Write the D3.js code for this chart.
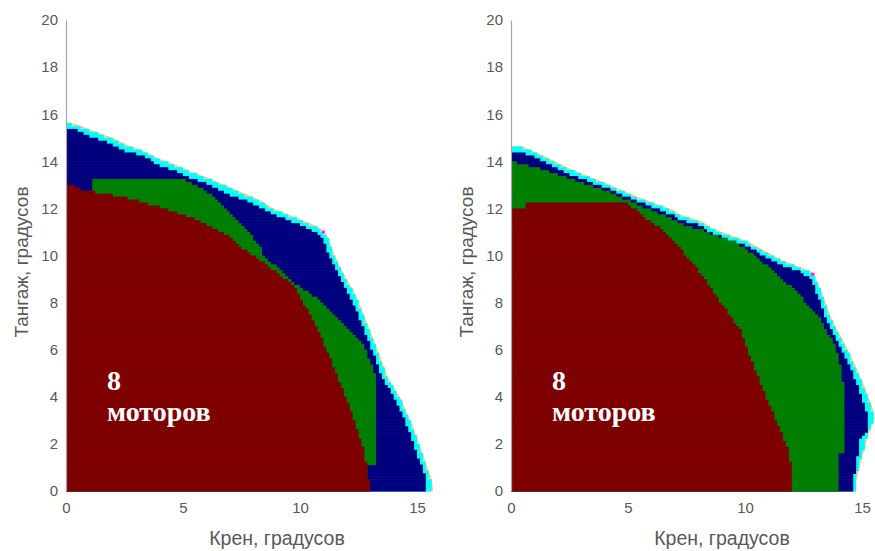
<!DOCTYPE html>
<html>
<head>
<meta charset="utf-8">
<script src="https://cdn.jsdelivr.net/npm/d3@7"></script>
<style>
  body { margin: 0; background: #ffffff; }
  svg { display: block; }
</style>
</head>
<body>
<svg id="chart" width="875" height="551"></svg>
<script>
// Axis ticks
const rollTicks = [0, 5, 10, 15];
const pitchTicks = [0, 2, 4, 6, 8, 10, 12, 14, 16, 18, 20];

// Axis titles and panel caption
const rollTitle = "Крен, градусов";
const pitchTitle = "Тангаж, градусов";
const captionLines = ["8", "моторов"];

// Left panel
const leftEdge = [[0,15.6],[0.4,15.55],[1.15,15.25],[2.0,14.95],[2.6,14.65],[3.3,14.4],[4.0,14.05],[4.7,13.8],[5.4,13.5],[6.2,13.2],[6.9,12.9],[7.6,12.6],[8.3,12.3],[8.85,11.95],[10.0,11.5],[10.7,11.2],[11.0,11.0],[11.2,10.7],[11.4,10.1],[11.8,9.25],[12.3,8.4],[12.56,7.8],[13.0,6.7],[13.35,5.8],[13.7,4.85],[14.3,3.85],[14.8,2.7],[15.25,1.45],[15.6,0.45],[15.65,0]];
const leftNavy = [[0,15.42],[0.5,15.3],[1.15,15.0],[2.0,14.72],[2.6,14.4],[3.3,14.22],[4.0,13.8],[4.7,13.58],[5.4,13.25],[6.2,12.98],[6.9,12.6],[7.6,12.38],[8.3,12.05],[8.85,11.74],[10.0,11.3],[10.7,11.0],[10.92,10.8],[11.2,10.1],[11.6,9.25],[12.1,8.35],[12.4,7.75],[12.8,6.65],[13.15,5.8],[13.5,4.85],[14.1,3.85],[14.6,2.7],[15.05,1.45],[15.42,0.45],[15.42,0]];
const leftGreen = [[1.1,12.7],[1.1,13.25],[4.9,13.25],[5.6,13.0],[6.15,12.6],[6.9,11.9],[7.75,11.05],[8.35,10.35],[8.45,10.0],[9.85,8.75],[10.3,8.45],[10.85,8.1],[11.4,7.5],[12.1,6.9],[12.7,6.3],[13.0,5.5],[13.3,4.75],[13.3,1.1],[12.9,1.1],[12.9,0]];
const leftRed = [[0,13.0],[0.35,13.0],[0.5,12.85],[1.15,12.7],[2.6,12.45],[4.0,12.05],[5.4,11.6],[6.9,10.85],[7.44,10.35],[8.3,9.8],[9.2,9.15],[9.85,8.6],[10.2,7.9],[10.85,6.7],[11.3,5.6],[11.7,4.6],[12.1,3.6],[12.4,2.7],[12.7,1.8],[12.85,1.1],[12.95,0.4],[12.95,0]];
const leftSpots = [[11.0,11.0]];

// Right panel
const rightEdge = [[0,14.6],[0.45,14.6],[1.15,14.3],[2.6,13.6],[4.0,13.05],[5.4,12.45],[6.9,11.9],[7.2,11.7],[8.15,11.4],[8.6,11.1],[10.1,10.55],[11.5,9.8],[12.4,9.45],[12.9,9.25],[13.2,8.55],[13.6,7.45],[13.9,6.85],[14.06,6.55],[14.5,5.7],[15.0,4.6],[15.4,3.55],[15.5,3.1],[15.2,2.3],[14.9,1.2],[14.7,0.35],[14.7,0]];
const rightNavy = [[0,14.4],[0.45,14.4],[1.15,14.1],[2.6,13.4],[4.0,12.9],[5.4,12.3],[6.9,11.72],[7.2,11.55],[8.15,11.25],[8.6,10.95],[10.1,10.38],[11.5,9.62],[12.4,9.28],[12.8,9.05],[13.05,8.45],[13.45,7.4],[13.75,6.8],[13.92,6.45],[14.35,5.6],[14.8,4.55],[15.15,3.55],[15.25,3.0],[15.25,2.6],[14.85,2.2],[14.8,1.2],[14.6,0.35],[14.6,0]];
const rightGreen = [[0,14.0],[1.15,13.72],[2.6,13.22],[4.0,12.78],[5.4,12.18],[6.9,11.56],[7.2,11.38],[8.15,11.08],[8.6,10.88],[9.65,10.55],[10.5,9.95],[11.5,9.1],[12.35,8.3],[13.2,7.3],[13.9,6.1],[14.15,5.0],[14.2,4.5],[14.2,1.6],[14.05,1.6],[14.05,0]];
const rightRed = [[0,12.0],[0.6,12.0],[0.6,12.25],[4.9,12.25],[5.3,11.95],[5.7,11.6],[6.3,11.2],[7.1,10.45],[8.1,9.25],[8.9,8.1],[9.8,6.85],[10.1,6.0],[10.5,5.0],[10.85,4.1],[11.2,3.3],[11.55,2.5],[11.8,1.9],[12.0,1.0],[12.05,0.75],[12.05,0]];
const rightSpots = [[12.9,9.2]];

const captionAt = [1.75, 4.3];

// Grid resolution of the stability map, degrees
const gridStep = 0.125;

const colors = {
  edge: "#f4e07c",
  spot: "#ff00ff",
  cyan: "#00ffff",
  navy: "#00007f",
  green: "#007f00",
  red: "#7f0000",
  axis: "#a6a6a6",
  text: "#595959"
};

const svg = d3.select("#chart");

// Turn a region boundary into horizontal runs of grid cells lying inside it.
function gridRuns(boundary) {
  const poly = boundary.concat([[0, 0]]);
  const runs = [];
  const rows = Math.round(20 / gridStep);
  const cols = Math.round(16.5 / gridStep);
  for (let i = 0; i < rows; i++) {
    const pc = (i + 0.5) * gridStep;
    let start = -1;
    for (let j = 0; j <= cols; j++) {
      const inside = j < cols && d3.polygonContains(poly, [(j + 0.5) * gridStep, pc]);
      if (inside && start < 0) start = j;
      if (!inside && start >= 0) {
        runs.push({ r0: start * gridStep, r1: j * gridStep, p0: i * gridStep, p1: (i + 1) * gridStep });
        start = -1;
      }
    }
  }
  return runs;
}

function drawPanel(originX, edge, navy, green, red, spots) {
  const x = d3.scaleLinear().domain([0, 15]).range([originX, originX + 351]);
  const y = d3.scaleLinear().domain([0, 20]).range([491, 20]);
  const g = svg.append("g");

  const line = d3.line().x(d => x(d[0])).y(d => y(d[1]));

  // thin rim around the outer boundary
  g.append("path").attr("d", line(edge))
    .attr("fill", "none").attr("stroke", colors.edge).attr("stroke-width", 2.2)
    .attr("stroke-linejoin", "round");
  g.append("path").attr("d", line(edge))
    .attr("fill", "none").attr("stroke", "#e98ad9").attr("stroke-width", 0.8)
    .attr("stroke-opacity", 0.5);

  const layers = [
    { pts: edge, fill: colors.cyan },
    { pts: navy, fill: colors.navy },
    { pts: green, fill: colors.green },
    { pts: red, fill: colors.red }
  ];
  layers.forEach(layer => {
    g.append("g").selectAll("rect").data(gridRuns(layer.pts)).join("rect")
      .attr("x", d => x(d.r0))
      .attr("width", d => x(d.r1) - x(d.r0))
      .attr("y", d => y(d.p1))
      .attr("height", d => y(d.p0) - y(d.p1) + 0.6)
      .attr("fill", layer.fill);
  });

  spots.forEach(s => {
    g.append("circle").attr("cx", x(s[0])).attr("cy", y(s[1])).attr("r", 1.8)
      .attr("fill", colors.spot).attr("fill-opacity", 0.8);
  });

  // pitch axis
  const yAxis = g.append("g").attr("transform", `translate(${originX},0)`)
    .call(d3.axisLeft(y).tickValues(pitchTicks).tickSize(0).tickPadding(8).tickFormat(d3.format("d")));
  yAxis.select(".domain").attr("stroke", colors.axis).attr("stroke-width", 1.2);
  yAxis.selectAll("text").attr("fill", colors.text)
    .style("font-family", "'Liberation Sans', Arial, sans-serif").style("font-size", "15px");

  // roll axis
  const xAxis = g.append("g").attr("transform", "translate(0,491)")
    .call(d3.axisBottom(x).tickValues(rollTicks).tickSize(0).tickPadding(11).tickFormat(d3.format("d")));
  xAxis.select(".domain").remove();
  xAxis.selectAll("text").attr("fill", colors.text)
    .style("font-family", "'Liberation Sans', Arial, sans-serif").style("font-size", "15px");

  // titles
  g.append("text").attr("x", originX + 211).attr("y", 545)
    .attr("text-anchor", "middle").attr("fill", colors.text)
    .style("font-family", "'Liberation Sans', Arial, sans-serif").style("font-size", "19.5px")
    .text(rollTitle);
  g.append("text").attr("transform", `translate(${originX - 38},262) rotate(-90)`)
    .attr("text-anchor", "middle").attr("fill", colors.text)
    .style("font-family", "'Liberation Sans', Arial, sans-serif").style("font-size", "19px")
    .text(pitchTitle);

  // caption
  const cap = g.append("text")
    .attr("fill", "#ffffff")
    .style("font-family", "'Liberation Serif', 'Times New Roman', serif")
    .style("font-weight", "bold").style("font-size", "28px");
  cap.append("tspan").attr("x", x(captionAt[0])).attr("y", y(captionAt[1])).text(captionLines[0]);
  cap.append("tspan").attr("x", x(captionAt[0])).attr("dy", 31).text(captionLines[1]);
}

drawPanel(66, leftEdge, leftNavy, leftGreen, leftRed, leftSpots);
drawPanel(511, rightEdge, rightNavy, rightGreen, rightRed, rightSpots);
</script>
</body>
</html>
